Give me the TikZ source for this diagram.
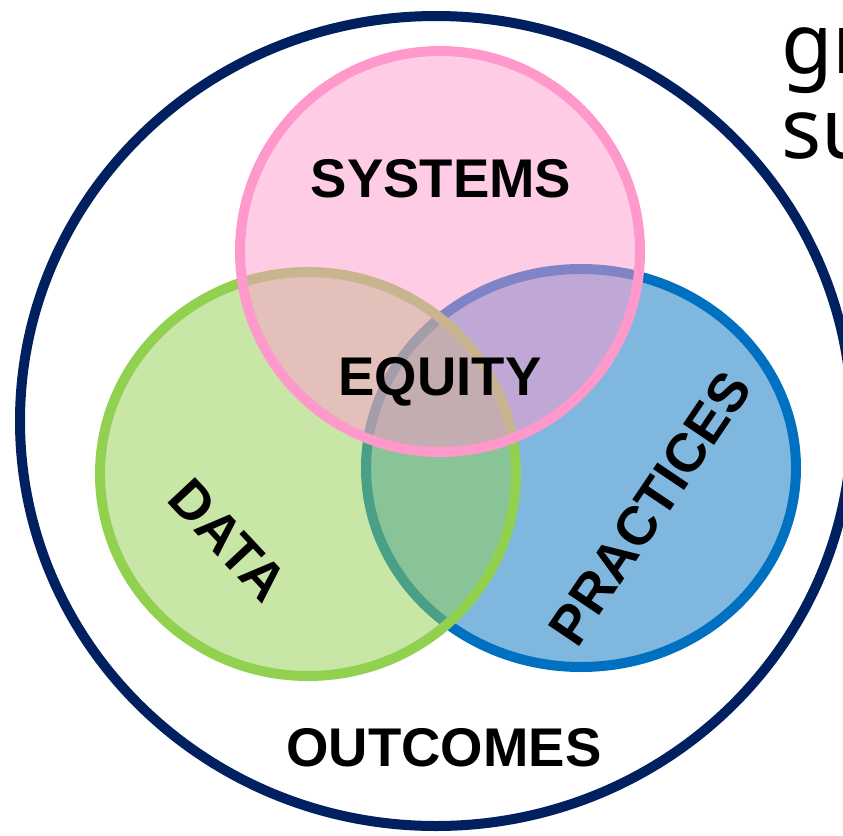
\documentclass[tikz,border=0pt]{standalone}
\usepackage{fontspec}
\setmainfont{Liberation Sans}
\newfontfamily\sidefont{Noto Sans}
\definecolor{navy}{HTML}{002060}
\definecolor{pinkc}{HTML}{FF99CC}
\definecolor{greenc}{HTML}{92D050}
\definecolor{bluec}{HTML}{0070C0}
\begin{document}
\begin{tikzpicture}[x=1pt,y=-1pt,
  ring/.style={line width=10pt, fill opacity=0.5},
  lbl/.style={inner sep=0pt, font=\fontsize{54.5}{60}\selectfont\bfseries},
  side/.style={inner sep=0pt, anchor=base west, font=\sidefont\fontsize{84}{90}\selectfont}]
\useasboundingbox (0,0) rectangle (843,835);
\clip (0,0) rectangle (843,835);
% outer
\draw[navy, line width=10pt] (436,421) ellipse [x radius=416, y radius=405];
% circles
\draw[ring, draw=bluec, fill=bluec] (581,468) ellipse [x radius=215, y radius=199];
\draw[ring, draw=greenc, fill=greenc] (308,474) ellipse [x radius=208, y radius=202];
\draw[ring, draw=pinkc, fill=pinkc] (440,251.5) ellipse [x radius=200, y radius=200.5];
% labels
\node[lbl] (systems) at (441,179) {SYSTEMS};
\node[lbl] (equity) at (440,382) {EQUITY};
\node[lbl] (outcomes) at (444,748) {OUTCOMES};
\node[lbl, rotate=-47] (data) at (228,540) {DATA};
\node[lbl, rotate=56] (practices) at (650,508) {PRACTICES};
% cropped side text
\node[side] (gr) at (781,73) {gr};
\node[side] (su) at (781,158) {su};
\end{tikzpicture}
\end{document}
